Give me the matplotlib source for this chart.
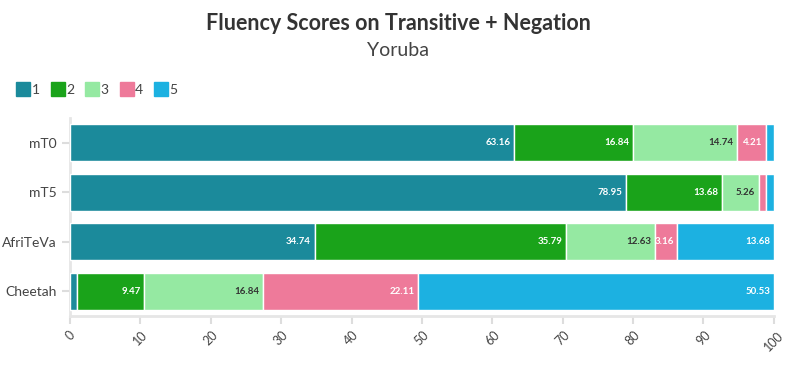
import matplotlib.pyplot as plt
from matplotlib.lines import Line2D
import numpy as np

# datos
modelos = ["mT0", "mT5", "AfriTeVa", "Cheetah"]
puntajes = ["1", "2", "3", "4", "5"]
s1 = [63.16, 78.95, 34.74, 1.05]
s2 = [16.84, 13.68, 35.79, 9.47]
s3 = [14.74, 5.26, 12.63, 16.84]
s4 = [4.21, 1.05, 3.16, 22.11]
s5 = [1.05, 1.05, 13.68, 50.53]

colores = ["#1b8a9b", "#1aa31a", "#95e9a2", "#ee7a9a", "#1cb1e1"]
color_txt = ["white", "white", "#333333", "white", "white"]

plt.rcParams['font.family'] = ['Lato', 'DejaVu Sans']

fig = plt.figure(figsize=(7.96, 3.66), dpi=100)
ax = fig.add_axes([0.088, 0.137, 0.884, 0.541])

series = [s1, s2, s3, s4, s5]
y = np.arange(len(modelos))
izq = np.zeros(len(modelos))
for i, vals in enumerate(series):
    vals = np.array(vals)
    ax.barh(y, vals, left=izq, height=0.75, color=colores[i],
            edgecolor="white", linewidth=1, zorder=3)
    for j, v in enumerate(vals):
        if v > 2:
            ax.text(izq[j] + v - 0.5, y[j], f"{v:.2f}", ha="right", va="center",
                    fontsize=7, fontweight="bold", color=color_txt[i], zorder=4)
    izq += vals

ax.set_xlim(0, 100)
ax.set_ylim(3.5, -0.5)
ax.set_yticks(y)
ax.set_yticklabels(modelos, fontsize=10, color="#444444")
ax.set_xticks(np.arange(0, 101, 10))
ax.set_xticklabels([str(v) for v in range(0, 101, 10)], rotation=45,
                   fontsize=9, color="#444444")
ax.tick_params(axis="both", color="#dddddd", length=6, width=1.5)
for lado in ["top", "right"]:
    ax.spines[lado].set_visible(False)
for lado in ["left", "bottom"]:
    ax.spines[lado].set_color("#e6e6e6")
    ax.spines[lado].set_linewidth(2)

fig.text(0.5, 0.935, "Fluency Scores on Transitive + Negation", ha="center",
         va="center", fontsize=15.5, fontweight="bold", color="#333333")
fig.text(0.5, 0.862, "Yoruba", ha="center", va="center", fontsize=14,
         color="#444444")

handles = [Line2D([0], [0], marker="s", linestyle="", markersize=10,
                  markerfacecolor=c, markeredgecolor=c) for c in colores]
fig.legend(handles, puntajes, loc="upper left", bbox_to_anchor=(0.005, 0.805),
           ncol=5, frameon=False, fontsize=10, handletextpad=0.1,
           columnspacing=0.8, handlelength=1.0, labelcolor="#444444")

plt.savefig("out.png", dpi=100)
